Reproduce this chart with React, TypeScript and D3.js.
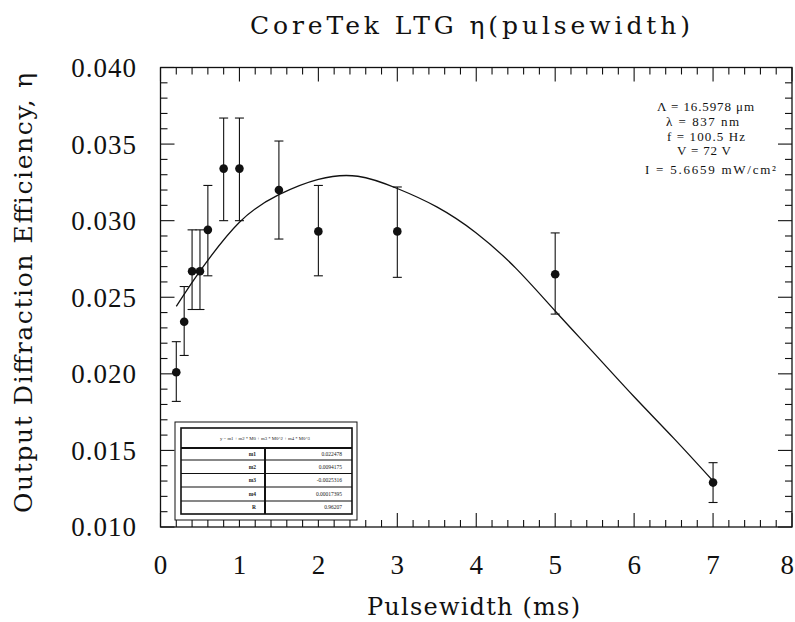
import React from 'react';
import * as d3 from 'd3';

const xTicks = [0, 1, 2, 3, 4, 5, 6, 7, 8];
const yTicks = [0.010, 0.015, 0.020, 0.025, 0.030, 0.035, 0.040];

const pulseWidth = [0.2, 0.3, 0.4, 0.5, 0.6, 0.8, 1.0, 1.5, 2.0, 3.0, 5.0, 7.0];
const efficiency = [0.0201, 0.0234, 0.0267, 0.0267, 0.0294, 0.0334, 0.0334, 0.0320, 0.0293, 0.0293, 0.0265, 0.0129];
const errUpper = [0.0221, 0.0257, 0.0294, 0.0294, 0.0323, 0.0367, 0.0367, 0.0352, 0.0323, 0.0322, 0.0292, 0.0142];
const errLower = [0.0182, 0.0212, 0.0242, 0.0242, 0.0264, 0.0300, 0.0300, 0.0288, 0.0264, 0.0263, 0.0239, 0.0116];

const fitX = [0.2, 0.5, 1.0, 1.5, 2.0, 2.5, 3.0, 3.5, 4.0, 4.5, 5.0, 5.5, 6.0, 6.5, 7.0];
const fitY = [0.0244, 0.0267, 0.0299, 0.0317, 0.0327, 0.0329, 0.0321, 0.0309, 0.0292, 0.0269, 0.0241, 0.0213, 0.0185, 0.0158, 0.0130];

const title = 'CoreTek LTG η(pulsewidth)';
const xLabel = 'Pulsewidth  (ms)';
const yLabel = 'Output Diffraction Efficiency, η';
const annotations = ['Λ = 16.5978 μm', 'λ = 837 nm', 'f = 100.5 Hz', 'V = 72 V', 'I = 5.6659 mW/cm²'];

const tableHeader = 'y = m1 + m2 * M0 + m3 * M0^2 + m4 * M0^3';
const tableNames = ['m1', 'm2', 'm3', 'm4', 'R'];
const tableValues = ['0.022478', '0.0094175', '-0.0025316', '0.00017395', '0.96207'];

const FONT = '"Liberation Serif", "Times New Roman", serif';
const WIDE = '"DejaVu Serif", "Liberation Serif", serif';

export default function App() {
  const W = 795, H = 622;
  const L = 160.5, R = 792, T = 67.5, B = 527;
  const x = d3.scaleLinear().domain([0, 8]).range([L, R]);
  const y = d3.scaleLinear().domain([0.010, 0.040]).range([B, T]);

  const xMinor = d3.range(0, 40 + 1).map((i) => i * 0.2);
  const yMinor = d3.range(0, 30 + 1).map((i) => 0.010 + i * 0.001);
  const isMajorX = (v: number) => Math.abs(v - Math.round(v)) < 1e-6;
  const isMajorY = (v: number) => Math.abs(v * 200 - Math.round(v * 200)) < 1e-6;

  const line = d3
    .line<number>()
    .x((_, i) => x(fitX[i]))
    .y((d) => y(d))
    .curve(d3.curveNatural);

  const majorLen = 14;
  const minorLen = 7;

  const tOuter = { x0: 175, y0: 422, x1: 357, y1: 520 };
  const tInner = { x0: 181, y0: 428, x1: 352, y1: 514 };
  const headerBottom = 448;
  const rowLines = [460, 473.5, 487, 501];
  const rowBounds = [headerBottom, ...rowLines, tInner.y1];
  const divX = 265;

  const annX = [657, 666, 667, 677, 645];
  const annW = [97, 73, 78, 54, 131];
  const annY = [110.5, 125.5, 141, 154.5, 174];

  return (
    <svg width={W} height={H} style={{ position: 'absolute', left: 0, top: 0, background: '#fff' }}>
      <rect x={0} y={0} width={W} height={H} fill="#fff" />
      <text x={250} y={34} fontFamily={WIDE} fontSize={25} textLength={440} lengthAdjust="spacing" fill="#111">
        {title}
      </text>

      <rect x={L} y={T} width={R - L} height={B - T} fill="none" stroke="#111" strokeWidth={1.3} />

      {xMinor.map((v, i) => {
        const len = isMajorX(v) ? majorLen : minorLen;
        return (
          <g key={'xt' + i} stroke="#111" strokeWidth={1.1}>
            <line x1={x(v)} x2={x(v)} y1={B} y2={B - len} />
            <line x1={x(v)} x2={x(v)} y1={T} y2={T + len} />
          </g>
        );
      })}
      {yMinor.map((v, i) => {
        const len = isMajorY(v) ? majorLen : minorLen;
        return (
          <g key={'yt' + i} stroke="#111" strokeWidth={1.1}>
            <line x1={L} x2={L + len} y1={y(v)} y2={y(v)} />
            <line x1={R} x2={R - len} y1={y(v)} y2={y(v)} />
          </g>
        );
      })}

      {yTicks.map((v) => (
        <text
          key={'yl' + v}
          x={137}
          y={y(v)}
          dy="0.35em"
          textAnchor="end"
          fontFamily={FONT}
          fontSize={27}
          letterSpacing={1}
          fill="#111"
        >
          {v.toFixed(3)}
        </text>
      ))}
      {xTicks.map((v, i) => {
        const last = i === xTicks.length - 1;
        return (
          <text
            key={'xl' + v}
            x={last ? W - 1 : x(v)}
            y={574}
            textAnchor={last ? 'end' : 'middle'}
            fontFamily={FONT}
            fontSize={27}
            fill="#111"
          >
            {v}
          </text>
        );
      })}

      <text x={367} y={615} fontFamily={WIDE} fontSize={24} textLength={213} lengthAdjust="spacing" fill="#111">
        {xLabel}
      </text>
      <text
        transform={`translate(32, 513) rotate(-90)`}
        x={0}
        y={0}
        fontFamily={WIDE}
        fontSize={25}
        textLength={440}
        lengthAdjust="spacing"
        fill="#111"
      >
        {yLabel}
      </text>

      <path d={line(fitY) || ''} fill="none" stroke="#111" strokeWidth={1.3} />

      {pulseWidth.map((p, i) => {
        const cx = x(p);
        return (
          <g key={'pt' + i} stroke="#111" strokeWidth={1.1}>
            <line x1={cx} x2={cx} y1={y(errUpper[i])} y2={y(errLower[i])} />
            <line x1={cx - 4.5} x2={cx + 4.5} y1={y(errUpper[i])} y2={y(errUpper[i])} />
            <line x1={cx - 4.5} x2={cx + 4.5} y1={y(errLower[i])} y2={y(errLower[i])} />
            <circle cx={cx} cy={y(efficiency[i])} r={4.3} fill="#111" stroke="none" />
          </g>
        );
      })}

      {annotations.map((s, i) => (
        <text
          key={'an' + i}
          x={annX[i]}
          y={annY[i]}
          fontFamily={FONT}
          fontSize={13}
          textLength={annW[i]}
          lengthAdjust="spacing"
          fill="#111"
        >
          {s}
        </text>
      ))}

      <g>
        <rect
          x={tOuter.x0}
          y={tOuter.y0}
          width={tOuter.x1 - tOuter.x0}
          height={tOuter.y1 - tOuter.y0}
          fill="#fff"
          stroke="#111"
          strokeWidth={1}
        />
        <rect
          x={tInner.x0}
          y={tInner.y0}
          width={tInner.x1 - tInner.x0}
          height={tInner.y1 - tInner.y0}
          fill="#fff"
          stroke="#111"
          strokeWidth={1.6}
        />
        <line x1={tInner.x0} x2={tInner.x1} y1={headerBottom} y2={headerBottom} stroke="#111" strokeWidth={2} />
        {rowLines.map((ry, i) => (
          <line key={'rl' + i} x1={tInner.x0} x2={tInner.x1} y1={ry} y2={ry} stroke="#111" strokeWidth={1.2} />
        ))}
        <line x1={divX} x2={divX} y1={headerBottom} y2={tInner.y1} stroke="#111" strokeWidth={2} />
        <text
          x={220}
          y={440}
          fontFamily={FONT}
          fontSize={5}
          textLength={90}
          lengthAdjust="spacingAndGlyphs"
          fill="#222"
        >
          {tableHeader}
        </text>
        {tableNames.map((n, i) => {
          const cy = (rowBounds[i] + rowBounds[i + 1]) / 2;
          return (
            <g key={'tr' + i}>
              <text x={256} y={cy} dy="0.35em" textAnchor="end" fontFamily={FONT} fontSize={5.5} fontWeight="bold" fill="#222">
                {n}
              </text>
              <text x={342} y={cy} dy="0.35em" textAnchor="end" fontFamily={FONT} fontSize={5.5} fill="#222">
                {tableValues[i]}
              </text>
            </g>
          );
        })}
      </g>
    </svg>
  );
}
